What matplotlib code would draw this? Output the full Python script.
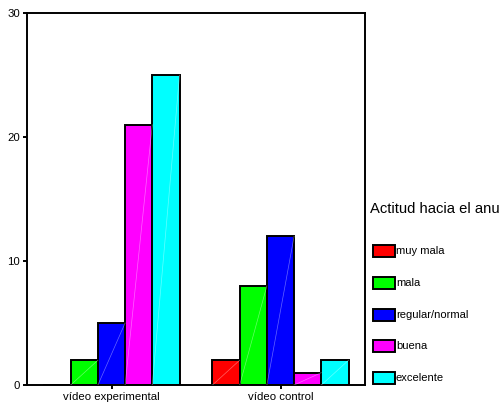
import matplotlib.pyplot as plt
import numpy as np

plt.rcParams['font.family'] = ['Liberation Sans', 'DejaVu Sans']

groups = ['vídeo experimental', 'vídeo control']
categories = ['muy mala', 'mala', 'regular/normal', 'buena', 'excelente']
colors = ['#ff0000', '#00ff00', '#0000ff', '#ff00ff', '#00ffff']
counts = {
    'muy mala': [0, 2],
    'mala': [2, 8],
    'regular/normal': [5, 12],
    'buena': [21, 1],
    'excelente': [25, 2],
}
legend_title = 'Actitud hacia el anu'

fig = plt.figure(figsize=(5, 4.12), dpi=100)
ax = fig.add_axes([0.054, 0.0655, 0.676, 0.9025])

x = np.arange(len(groups))
width = 0.161
for i, cat in enumerate(categories):
    pos = x + (i - 2) * width
    vals = counts[cat]
    ax.bar(pos, vals, width, color=colors[i], edgecolor='black', linewidth=1.4, zorder=2)
    # faint diagonal streak seen in the original rendering
    for p, v in zip(pos, vals):
        if v > 0:
            ax.plot([p - width / 2, p + width / 2], [0, v], color='white',
                    lw=0.5, alpha=0.4, zorder=3)

ax.set_xlim(-0.5, 1.5)
ax.set_ylim(0, 30)
ax.set_yticks([0, 10, 20, 30])
ax.set_xticks(x)
ax.set_xticklabels(groups)
ax.tick_params(axis='both', direction='out', length=3, width=1.4, labelsize=8.2, pad=2)
for s in ax.spines.values():
    s.set_linewidth(1.4)

# legend drawn to the right of the plot, as in the source chart
fig.text(0.74, 0.492, legend_title, fontsize=10.6, va='center', ha='left')
ys = [0.391, 0.313, 0.235, 0.160, 0.083]
for cat, col, yy in zip(categories, colors, ys):
    fig.patches.append(plt.Rectangle((0.746, yy - 0.0145), 0.044, 0.029,
                                     transform=fig.transFigure, facecolor=col,
                                     edgecolor='black', linewidth=1.4, figure=fig))
    fig.text(0.792, yy, cat, fontsize=8.0, va='center', ha='left')

fig.savefig('out.png', dpi=100)
